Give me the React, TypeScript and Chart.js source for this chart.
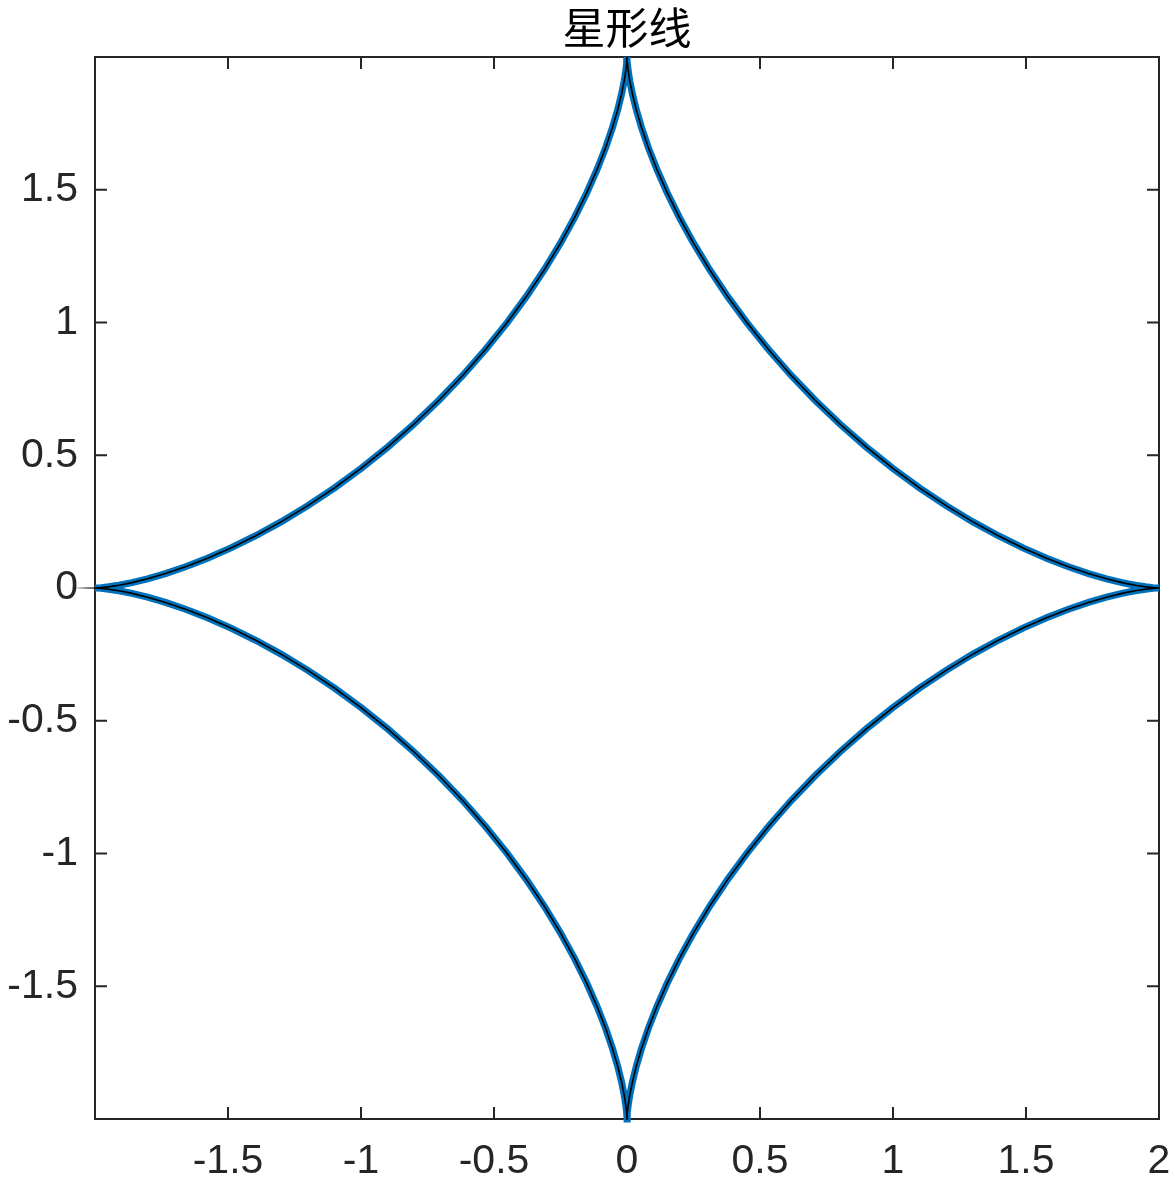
import React, { useEffect, useRef } from "react";
import { Chart, registerables } from "chart.js";

Chart.register(...registerables);

const TITLE = "星形线";

// Astroid curve points (traversed counter-clockwise from (2,0))
const curveX = [
  2, 1.9943, 1.9772, 1.9491, 1.9102, 1.8611, 1.8024, 1.735, 1.6595, 1.5772, 1.4889, 1.3958, 1.299, 1.1998, 1.0993, 0.9987, 0.8991, 0.8015, 0.7071, 0.6167, 0.5312, 0.4512, 0.3774, 0.3102, 0.25, 0.1969, 0.151, 0.1121, 0.08, 0.0544, 0.0347, 0.0203, 0.0105, 0.0044, 0.0013, 0.0002, 0,
  -0.0002, -0.0013, -0.0044, -0.0105, -0.0203, -0.0347, -0.0544, -0.08, -0.1121, -0.151, -0.1969, -0.25, -0.3102, -0.3774, -0.4512, -0.5312, -0.6167, -0.7071, -0.8015, -0.8991, -0.9987, -1.0993, -1.1998, -1.299, -1.3958, -1.4889, -1.5772, -1.6595, -1.735, -1.8024, -1.8611, -1.9102, -1.9491, -1.9772, -1.9943, -2,
  -1.9943, -1.9772, -1.9491, -1.9102, -1.8611, -1.8024, -1.735, -1.6595, -1.5772, -1.4889, -1.3958, -1.299, -1.1998, -1.0993, -0.9987, -0.8991, -0.8015, -0.7071, -0.6167, -0.5312, -0.4512, -0.3774, -0.3102, -0.25, -0.1969, -0.151, -0.1121, -0.08, -0.0544, -0.0347, -0.0203, -0.0105, -0.0044, -0.0013, -0.0002, 0,
  0.0002, 0.0013, 0.0044, 0.0105, 0.0203, 0.0347, 0.0544, 0.08, 0.1121, 0.151, 0.1969, 0.25, 0.3102, 0.3774, 0.4512, 0.5312, 0.6167, 0.7071, 0.8015, 0.8991, 0.9987, 1.0993, 1.1998, 1.299, 1.3958, 1.4889, 1.5772, 1.6595, 1.735, 1.8024, 1.8611, 1.9102, 1.9491, 1.9772, 1.9943, 2,
];
const curveY = [
  0, 0.0002, 0.0013, 0.0044, 0.0105, 0.0203, 0.0347, 0.0544, 0.08, 0.1121, 0.151, 0.1969, 0.25, 0.3102, 0.3774, 0.4512, 0.5312, 0.6167, 0.7071, 0.8015, 0.8991, 0.9987, 1.0993, 1.1998, 1.299, 1.3958, 1.4889, 1.5772, 1.6595, 1.735, 1.8024, 1.8611, 1.9102, 1.9491, 1.9772, 1.9943, 2,
  1.9943, 1.9772, 1.9491, 1.9102, 1.8611, 1.8024, 1.735, 1.6595, 1.5772, 1.4889, 1.3958, 1.299, 1.1998, 1.0993, 0.9987, 0.8991, 0.8015, 0.7071, 0.6167, 0.5312, 0.4512, 0.3774, 0.3102, 0.25, 0.1969, 0.151, 0.1121, 0.08, 0.0544, 0.0347, 0.0203, 0.0105, 0.0044, 0.0013, 0.0002, 0,
  -0.0002, -0.0013, -0.0044, -0.0105, -0.0203, -0.0347, -0.0544, -0.08, -0.1121, -0.151, -0.1969, -0.25, -0.3102, -0.3774, -0.4512, -0.5312, -0.6167, -0.7071, -0.8015, -0.8991, -0.9987, -1.0993, -1.1998, -1.299, -1.3958, -1.4889, -1.5772, -1.6595, -1.735, -1.8024, -1.8611, -1.9102, -1.9491, -1.9772, -1.9943, -2,
  -1.9943, -1.9772, -1.9491, -1.9102, -1.8611, -1.8024, -1.735, -1.6595, -1.5772, -1.4889, -1.3958, -1.299, -1.1998, -1.0993, -0.9987, -0.8991, -0.8015, -0.7071, -0.6167, -0.5312, -0.4512, -0.3774, -0.3102, -0.25, -0.1969, -0.151, -0.1121, -0.08, -0.0544, -0.0347, -0.0203, -0.0105, -0.0044, -0.0013, -0.0002, 0,
];

const xTicks = [-1.5, -1, -0.5, 0, 0.5, 1, 1.5, 2];
const yTicks = [-1.5, -1, -0.5, 0, 0.5, 1, 1.5];
const axisMin = -2;
const axisMax = 2;

const AXIS_COLOR = "#262626";
const BLUE = "#0072BD";

const framePlugin = {
  id: "matlabFrame",
  beforeDatasetsDraw(chart: any) {
    const { ctx, chartArea } = chart;
    const { left, right, top, bottom } = chartArea;
    const xs = chart.scales.x;
    const ys = chart.scales.y;
    ctx.save();
    ctx.strokeStyle = AXIS_COLOR;
    ctx.lineWidth = 2;
    ctx.strokeRect(left, top, right - left, bottom - top);
    const tl = 12;
    ctx.beginPath();
    xTicks.forEach((v) => {
      const px = xs.getPixelForValue(v);
      ctx.moveTo(px, bottom);
      ctx.lineTo(px, bottom - tl);
      ctx.moveTo(px, top);
      ctx.lineTo(px, top + tl);
    });
    yTicks.forEach((v) => {
      const py = ys.getPixelForValue(v);
      ctx.moveTo(left, py);
      ctx.lineTo(left + tl, py);
      ctx.moveTo(right, py);
      ctx.lineTo(right - tl, py);
    });
    ctx.stroke();
    ctx.restore();
  },
  beforeDatasetDraw(chart: any, args: any) {
    if (args.index === 1) {
      chart.ctx.save();
      chart.ctx.miterLimit = 30;
    }
  },
  afterDatasetDraw(chart: any, args: any) {
    if (args.index === 1) {
      chart.ctx.restore();
    }
  },
  afterDraw(chart: any) {
    const { ctx, chartArea } = chart;
    ctx.save();
    ctx.fillStyle = "#000000";
    ctx.font = '43px "Noto Sans CJK SC"';
    ctx.textAlign = "center";
    ctx.textBaseline = "middle";
    ctx.fillText(TITLE, (chartArea.left + chartArea.right) / 2, 28);
    ctx.restore();
  },
};

export default function App() {
  const ref = useRef<HTMLCanvasElement | null>(null);
  useEffect(() => {
    if (!ref.current) return;
    const pts = curveX.map((x, i) => ({ x, y: curveY[i] }));
    const chart = new Chart(ref.current, {
      type: "scatter",
      data: {
        datasets: [
          {
            label: "blue",
            data: pts,
            showLine: true,
            borderColor: BLUE,
            borderWidth: 7,
            pointRadius: 0,
            tension: 0,
            order: 1,
            clip: false as any,
          },
          {
            label: "black",
            data: pts,
            showLine: true,
            borderColor: "#000000",
            borderWidth: 1.6,
            pointRadius: 0,
            tension: 0,
            order: 0,
            clip: false as any,
          },
        ],
      },
      options: {
        animation: false,
        responsive: false,
        devicePixelRatio: 1,
        layout: { padding: { left: 0, right: 16, top: 57, bottom: 0 } },
        plugins: {
          legend: { display: false },
          tooltip: { enabled: false },
          title: { display: false },
        },
        scales: {
          x: {
            type: "linear",
            min: axisMin,
            max: axisMax,
            grid: { display: false, drawTicks: false },
            border: { display: false },
            afterBuildTicks: (s: any) => {
              s.ticks = xTicks.map((v) => ({ value: v }));
            },
            afterFit: (s: any) => {
              s.height = 71;
              s.paddingLeft = 0;
              s.paddingRight = 0;
            },
            ticks: {
              color: AXIS_COLOR,
              font: { family: '"Liberation Sans", Arial', size: 41 },
              padding: 18,
              maxRotation: 0,
              autoSkip: false,
              callback: (v: any) => String(v),
            },
          },
          y: {
            type: "linear",
            min: axisMin,
            max: axisMax,
            grid: { display: false, drawTicks: false },
            border: { display: false },
            afterBuildTicks: (s: any) => {
              s.ticks = yTicks.map((v) => ({ value: v }));
            },
            afterFit: (s: any) => {
              s.width = 95;
              s.paddingTop = 0;
              s.paddingBottom = 0;
            },
            ticks: {
              color: AXIS_COLOR,
              font: { family: '"Liberation Sans", Arial', size: 41 },
              padding: 17,
              autoSkip: false,
              callback: (v: any) => String(v),
            },
          },
        },
      },
      plugins: [framePlugin],
    });
    return () => chart.destroy();
  }, []);
  return (
    <div style={{ position: "absolute", left: 0, top: 0, width: 1175, height: 1190, background: "#fff" }}>
      <canvas ref={ref} width={1175} height={1190} style={{ display: "block" }} />
    </div>
  );
}
